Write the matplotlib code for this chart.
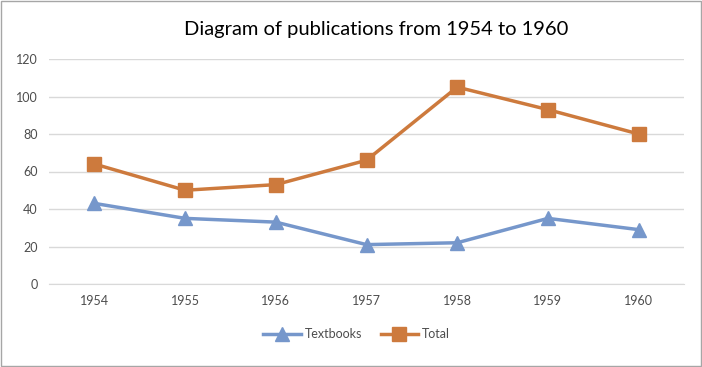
import numpy as np
import matplotlib
matplotlib.use('Agg')
import matplotlib.pyplot as plt

years = ['1954', '1955', '1956', '1957', '1958', '1959', '1960']
textbooks = [43, 35, 33, 21, 22, 35, 29]
total = [64, 50, 53, 66, 105, 93, 80]

plt.rcParams['font.family'] = ['Lato', 'DejaVu Sans']

fig = plt.figure(figsize=(7.02, 3.67), dpi=100)
ax = fig.add_axes([49/702, 1 - 284/367, 635/702, 225/367])

x = np.arange(len(years))
ax.plot(x, textbooks, color='#7697CB', lw=2.5, marker='^', ms=10, label='Textbooks')
ax.plot(x, total, color='#CD7A3D', lw=2.5, marker='s', ms=10, label='Total')

ax.set_xlim(-0.5, len(years) - 0.5)
ax.set_ylim(0, 120)
ax.set_yticks(np.arange(0, 121, 20))
ax.set_xticks(x)
ax.set_xticklabels(years)
ax.tick_params(length=0, labelsize=9, colors='#4D4D4D', pad=8)
ax.grid(axis='y', color='#D9D9D9', lw=1)
ax.set_axisbelow(True)
for s in ['top', 'right', 'left']:
    ax.spines[s].set_visible(False)
ax.spines['bottom'].set_color('#D9D9D9')

fig.text(376/702, 1 - 30/367, 'Diagram of publications from 1954 to 1960',
         ha='center', va='center', fontsize=14.5, color='#000000')

fig.legend(loc='center', bbox_to_anchor=(0.508, 1 - 334/367), ncol=2, frameon=False,
           fontsize=9, handlelength=3, columnspacing=1.5, handletextpad=0.3,
           labelcolor='#4D4D4D')

fig.patches.append(plt.Rectangle((0.001, 0.002), 0.997, 0.995, transform=fig.transFigure,
                                 fill=False, edgecolor='#A6A6A6', lw=1))

fig.savefig('out.png', dpi=100)
